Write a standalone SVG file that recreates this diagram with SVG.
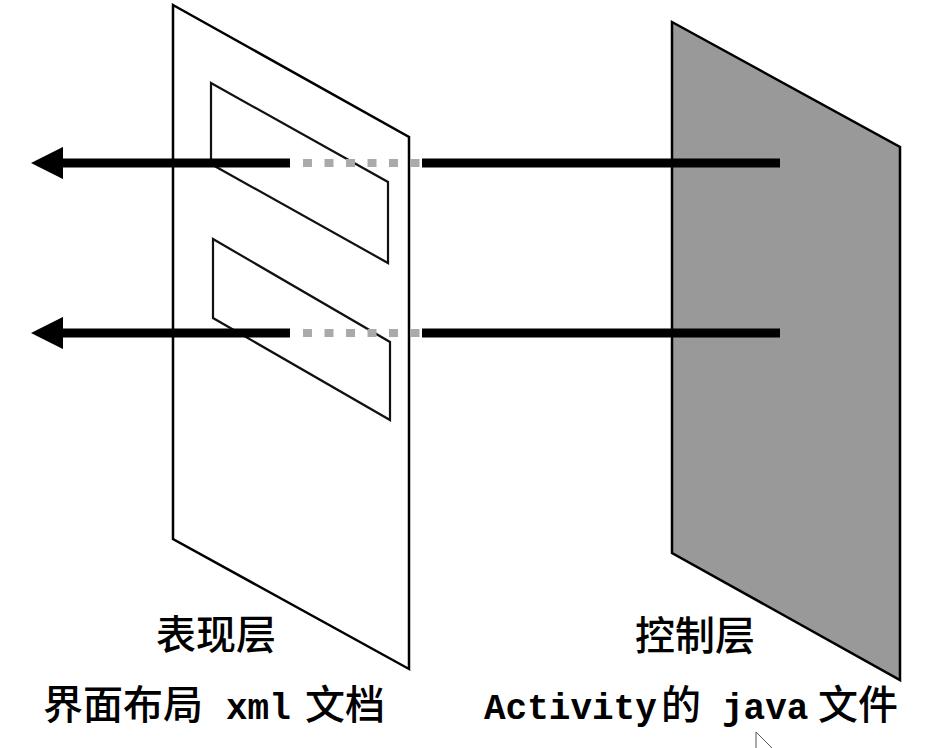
<svg xmlns="http://www.w3.org/2000/svg" width="943" height="748" viewBox="0 0 943 748">
<defs>
<style>
.panel{stroke:#000;stroke-width:2.5;stroke-linejoin:miter}
.slot{fill:#fff;stroke:#111;stroke-width:2.2}
.wire{stroke:#000;stroke-width:9;fill:none}
.dots{stroke:#aaa;stroke-width:8;stroke-dasharray:9 12.5;fill:none}
.cjk{font-family:"Noto Sans CJK SC","Liberation Sans",sans-serif;font-size:40px;font-weight:500;fill:#000}
.mono{font-family:"Liberation Mono","DejaVu Sans Mono",monospace;font-size:36px;font-weight:bold;fill:#000}
</style>
<marker id="ah" viewBox="0 0 10 10" refX="1" refY="5" markerWidth="3.6" markerHeight="3.6" orient="auto-start-reverse" markerUnits="strokeWidth">
<path d="M0,0 L10,5 L0,10 Z" fill="#000"/>
</marker>
</defs>
<rect width="943" height="748" fill="#fff"/>
<g id="view-layer">
<polygon class="panel" points="173,5 409,137 409,669 173,539" fill="#fff"/>
<polygon class="slot" points="211,83 388,182 388,263 211,164"/>
<polygon class="slot" points="213,239 390,342 390,420 213,318"/>
<text class="cjk" x="216" y="649" text-anchor="middle">表现层</text>
<text x="43" y="719"><tspan class="cjk" x="43">界面布局</tspan><tspan class="mono" x="226">xml</tspan><tspan class="cjk" x="305">文档</tspan></text>
</g>
<g id="control-layer">
<polygon class="panel" points="672,22 900,147 900,680 672,553" fill="#999"/>
<text class="cjk" x="695" y="650" text-anchor="middle">控制层</text>
<text x="485" y="719"><tspan class="mono" x="484">Activity</tspan><tspan class="cjk" x="661">的</tspan><tspan class="mono" x="722">java</tspan><tspan class="cjk" x="818">文件</tspan></text>
</g>
<g id="connectors">
<line class="wire" x1="780" y1="163" x2="422" y2="163"/>
<line class="dots" x1="303" y1="163" x2="420" y2="163"/>
<line class="wire" x1="290" y1="163" x2="60" y2="163" marker-end="url(#ah)"/>
<line class="wire" x1="780" y1="333" x2="422" y2="333"/>
<line class="dots" x1="303" y1="333" x2="420" y2="333"/>
<line class="wire" x1="290" y1="333" x2="60" y2="333" marker-end="url(#ah)"/>
</g>
<path d="M756,732 L756,748 M756,732 L772,748" fill="none" stroke="#555" stroke-width="1"/>
</svg>
